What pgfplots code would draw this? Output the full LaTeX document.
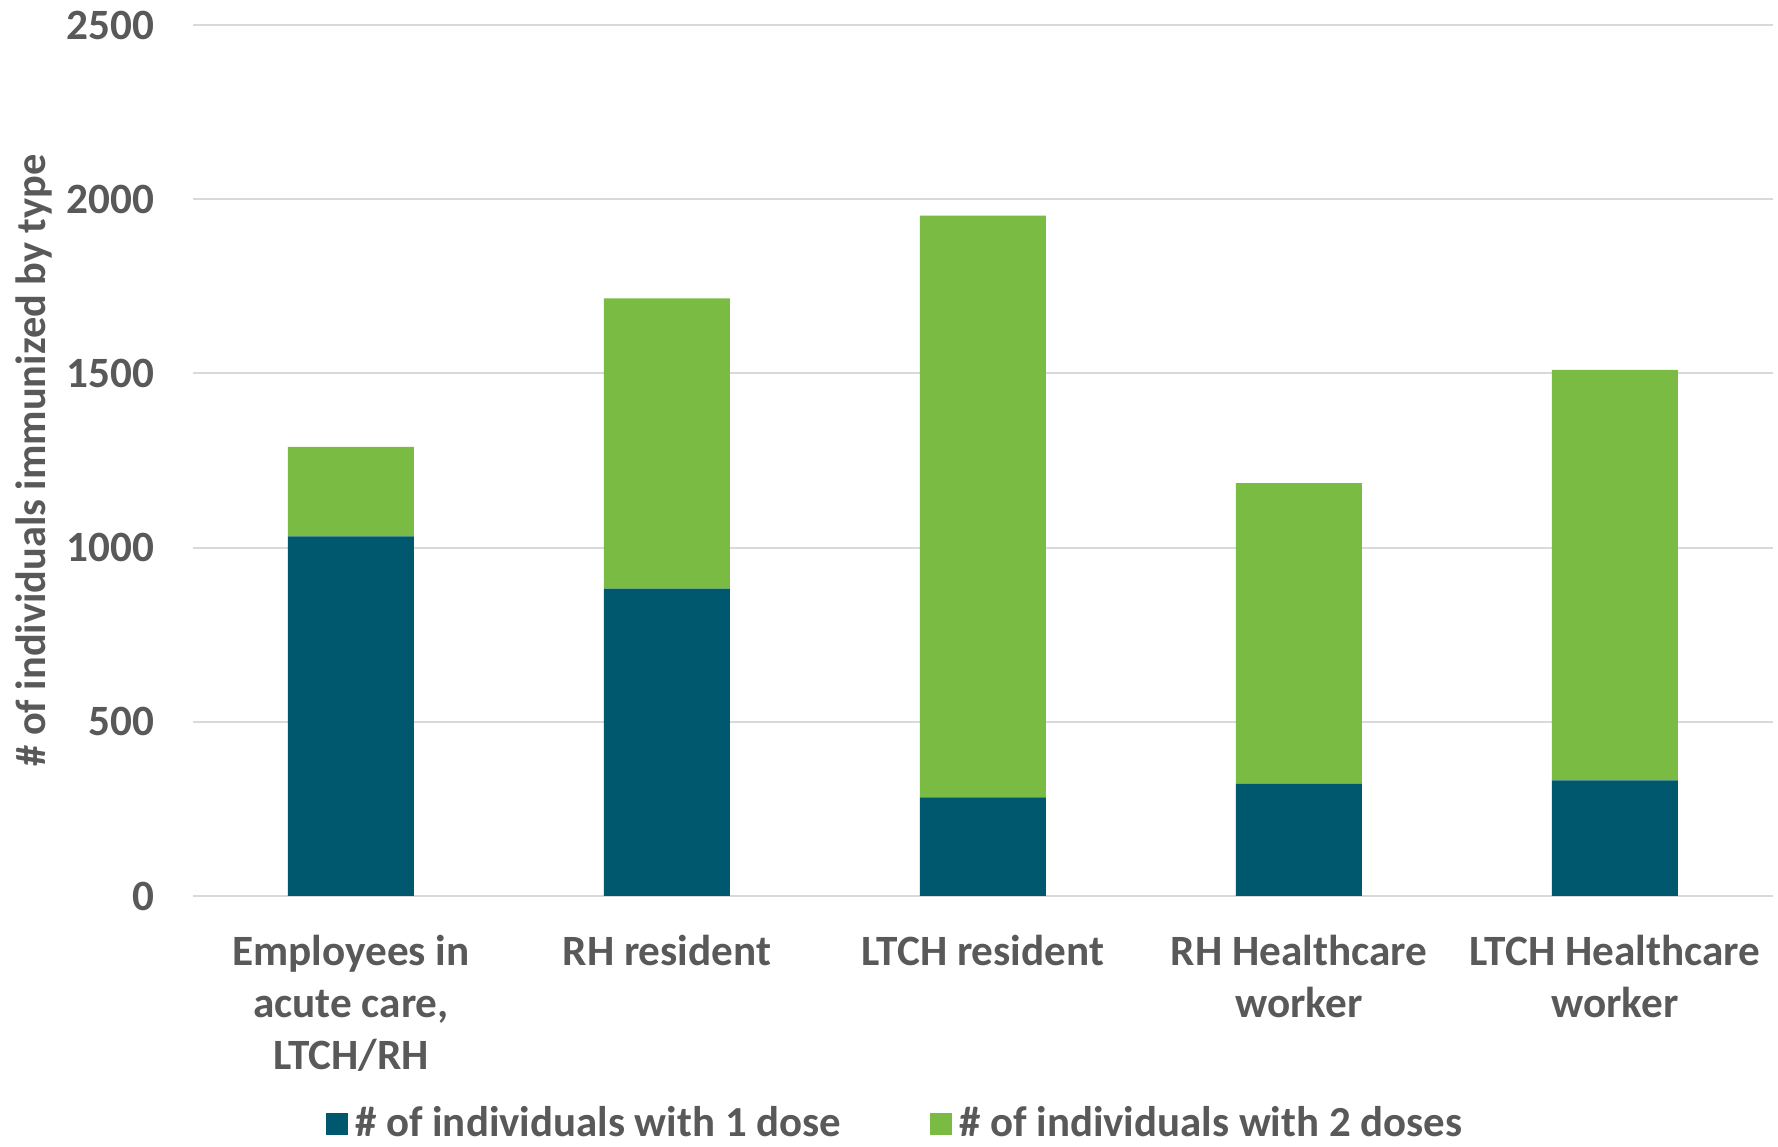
\documentclass[border=0pt]{standalone}
\usepackage{pgfplots}
\pgfplotsset{compat=1.18}
\usepackage{fontspec}
\setmainfont{Carlito}
\definecolor{dosea}{HTML}{00586E}
\definecolor{doseb}{HTML}{7ABC43}
\definecolor{txt}{HTML}{595959}
\definecolor{gridc}{HTML}{D9D9D9}
\begin{document}
\begin{tikzpicture}
\path[use as bounding box] (-19.3mm,-25.1mm) rectangle (158.5mm,89.6mm);
\begin{axis}[
    at={(0,0)}, anchor=south west,
    scale only axis,
    width=158mm, height=87.1mm,
    ybar stacked, bar width=12.6mm,
    xmin=-0.5, xmax=4.5,
    ymin=0, ymax=2500,
    ytick={0,500,...,2500},
    xtick={0,1,2,3,4},
    xticklabels={{Employees in\\acute care,\\LTCH/RH},{RH resident},{LTCH resident},{RH Healthcare\\worker},{LTCH Healthcare\\worker}},
    axis line style={draw=none},
    tick style={draw=none},
    ymajorgrids,
    grid style={gridc, line width=0.6pt},
    font=\bfseries,
    /pgf/number format/assume math mode=true,
    /pgf/number format/1000 sep={},
    yticklabel style={font=\fontsize{12.3}{14}\selectfont\bfseries, text=txt, xshift=-2.6mm},
    xticklabel style={font=\fontsize{12.3}{14.8}\selectfont\bfseries, text=txt, align=center, yshift=-2.7mm},
    ylabel={\# of individuals immunized by type},
    ylabel style={font=\fontsize{12.05}{14}\selectfont\bfseries, text=txt, at={(axis description cs:-0.1006,0.5)}, anchor=center},
    legend style={draw=none, at={(0.446,-0.262)}, anchor=center, legend columns=2,
        font=\fontsize{12.2}{14}\selectfont\bfseries, text=txt, inner ysep=0pt,
        nodes={inner ysep=0.5pt},
        /tikz/every even column/.append style={column sep=8.2mm}},
    legend image code/.code={\fill[#1] (-0.5mm,-1.1mm) rectangle (1.7mm,1.1mm);},
]
\addplot[fill=dosea, draw=none] coordinates {(0,1032) (1,882) (2,283) (3,322) (4,332)};
\addplot[fill=doseb, draw=none] coordinates {(0,257) (1,833) (2,1670) (3,863) (4,1178)};
\legend{\# of individuals with 1 dose, \# of individuals with 2 doses}
\end{axis}
\end{tikzpicture}
\end{document}
